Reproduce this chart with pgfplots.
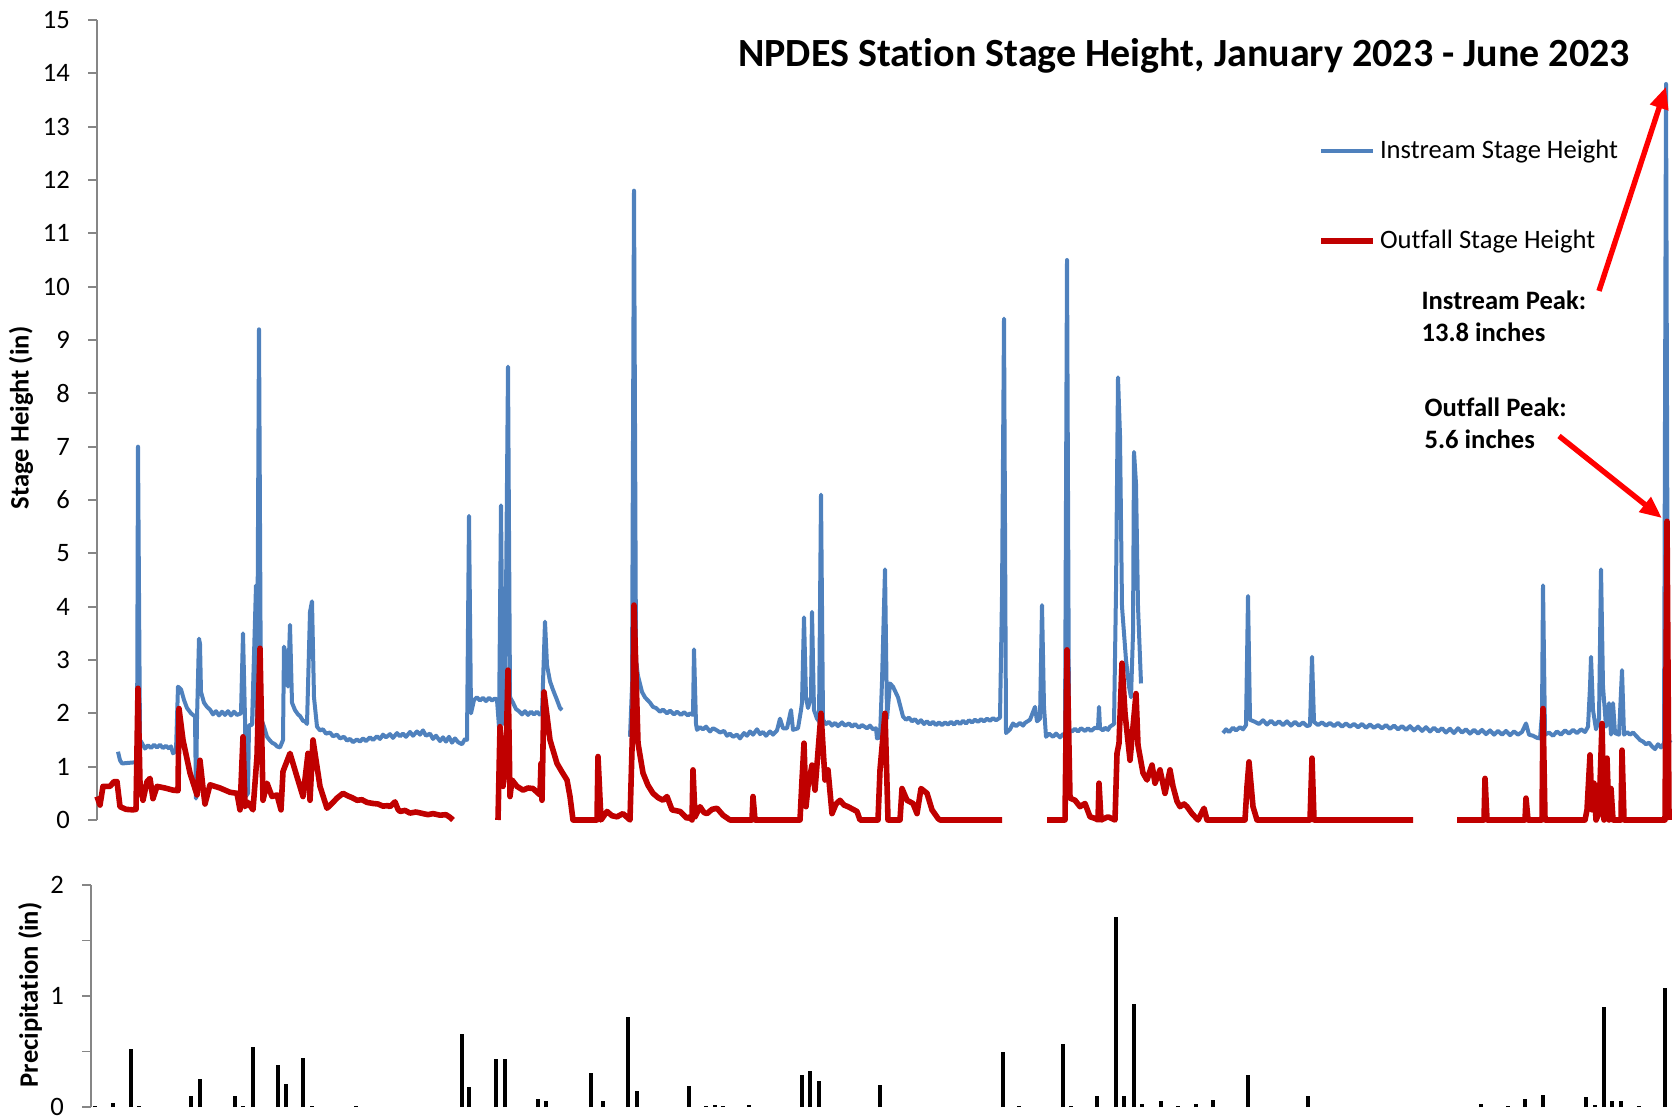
\documentclass[border=0pt]{standalone}
\usepackage{pgfplots}
\pgfplotsset{compat=1.18}
\usepackage{pgfplotstable}
\usepackage{fontspec}
\setmainfont{Carlito}[Ligatures={TeX,NoCommon}]
\usetikzlibrary{arrows.meta}
\definecolor{instream}{HTML}{4F81BD}
\definecolor{outfall}{HTML}{C00000}
\definecolor{axgray}{HTML}{868686}
\definecolor{arrowred}{HTML}{FF0000}

% x = position along Jan-Jun 2023 time axis (chart units), y = stage height (in)
\pgfplotstableread{
x y
118 1.28
120 1.12
122 1.06
128 1.07
134 1.08
137 1.10
138 7.0
140 1.5
142 1.44
145 1.34
148 1.40
151 1.35
154 1.41
157 1.36
160 1.41
163 1.35
166 1.39
169 1.34
171 1.38
173 1.25
176 1.30
178 2.5
181 2.45
184 2.25
187 2.1
191 2.0
195 1.94
196 0.4
197 1.9
199 3.4
200 3.3
201 2.4
204 2.2
207 2.12
210 2.07
213 1.98
216 2.04
219 1.96
222 2.03
225 1.97
228 2.04
231 1.96
234 2.03
237 1.97
241 2.0
243 3.5
245 1.9
246 0.45
248 0.5
249 1.78
252 1.78
256 4.4
257 1.8
259 9.2
261 1.9
264 1.75
267 1.56
270 1.49
272 1.45
275 1.42
277 1.38
280 1.36
283 1.5
284 3.25
286 3.1
288 2.5
290 3.66
292 2.2
295 2.06
298 1.98
300 1.95
303 1.86
305 1.85
307 1.8
310 3.9
312 4.1
314 2.3
317 1.75
320 1.68
323 1.70
326 1.62
330 1.64
333 1.57
337 1.60
340 1.53
344 1.56
347 1.49
350 1.52
353 1.46
357 1.51
360 1.47
363 1.53
366 1.48
370 1.55
373 1.50
377 1.57
380 1.52
383 1.60
386 1.55
390 1.61
393 1.54
397 1.63
400 1.57
403 1.62
406 1.56
410 1.65
413 1.58
417 1.66
420 1.60
423 1.68
426 1.58
430 1.62
433 1.52
436 1.58
440 1.48
443 1.55
446 1.47
449 1.56
452 1.45
455 1.53
458 1.46
462 1.42
465 1.52
467 1.5
469 5.7
471 2.0
474 2.25
477 2.30
480 2.24
483 2.29
486 2.23
489 2.29
492 2.24
495 2.28
497 2.25
499 1.75
501 5.9
503 1.8
505 2.0
508 8.5
510 2.3
513 2.2
516 2.08
519 2.04
522 1.98
525 2.04
528 1.97
531 2.03
534 1.98
537 2.03
540 1.97
542 2.0
545 3.72
547 2.9
550 2.6
553 2.44
557 2.25
560 2.1
562 2.06
563 nan
630 1.56
632 2.5
634 11.8
636 3.0
638 2.7
642 2.4
645 2.3
650 2.2
653 2.12
656 2.1
660 2.03
663 2.07
667 2.0
670 2.05
674 1.98
677 2.03
681 1.97
684 2.02
688 1.96
690 2.0
693 1.97
694 3.2
696 1.8
697 1.69
700 1.74
703 1.70
706 1.75
710 1.66
713 1.72
717 1.68
720 1.64
724 1.67
727 1.58
730 1.62
733 1.56
737 1.60
740 1.53
744 1.63
747 1.58
750 1.66
753 1.60
757 1.70
760 1.61
763 1.65
766 1.58
770 1.66
773 1.60
777 1.68
780 1.9
783 1.72
787 1.72
791 2.06
793 1.69
798 1.72
801 2.06
802 2.2
804 3.8
806 2.3
808 2.1
811 2.3
812 3.9
814 2.06
817 1.9
819 1.85
821 6.1
823 1.88
826 1.80
829 1.84
832 1.77
835 1.82
838 1.76
842 1.83
845 1.77
849 1.81
852 1.75
855 1.80
859 1.73
862 1.78
867 1.72
870 1.77
873 1.70
876 1.72
877 1.53
880 1.55
882 2.6
885 4.7
887 1.9
890 2.56
893 2.5
898 2.3
903 1.94
906 1.88
909 1.92
912 1.85
915 1.89
918 1.82
921 1.87
924 1.80
927 1.85
930 1.79
933 1.84
936 1.78
939 1.83
942 1.78
945 1.83
948 1.79
951 1.84
954 1.79
957 1.85
960 1.80
963 1.86
966 1.81
969 1.87
972 1.83
975 1.88
978 1.84
981 1.89
984 1.85
987 1.90
990 1.86
993 1.91
996 1.87
1000 1.92
1002 4.2
1004 9.4
1006 1.63
1010 1.7
1013 1.81
1016 1.76
1020 1.82
1023 1.77
1025 1.82
1030 1.88
1035 2.12
1037 1.85
1040 1.9
1042 4.03
1044 2.12
1046 1.56
1049 1.62
1053 1.56
1056 1.62
1060 1.55
1063 1.61
1065 1.6
1067 10.5
1069 1.7
1072 1.66
1075 1.71
1078 1.66
1081 1.72
1085 1.67
1088 1.72
1091 1.67
1095 1.73
1098 1.72
1099 2.12
1100 1.72
1103 1.68
1105 1.73
1108 1.69
1110 1.75
1114 1.8
1116 4.3
1118 8.3
1120 7.2
1122 4.0
1126 3.0
1129 2.5
1131 2.3
1133 3.5
1134 6.9
1136 6.3
1138 4.0
1141 2.56
1142 nan
1223 1.63
1226 1.70
1229 1.65
1233 1.73
1236 1.68
1240 1.74
1243 1.70
1246 1.78
1248 4.2
1250 1.88
1255 1.84
1259 1.80
1263 1.87
1267 1.79
1271 1.86
1275 1.79
1279 1.85
1283 1.78
1287 1.85
1291 1.77
1295 1.84
1299 1.77
1303 1.83
1307 1.76
1310 1.78
1312 3.06
1314 1.84
1318 1.78
1322 1.83
1326 1.77
1330 1.82
1334 1.76
1338 1.82
1342 1.75
1346 1.81
1350 1.75
1354 1.80
1358 1.74
1362 1.80
1366 1.73
1370 1.79
1374 1.73
1378 1.78
1382 1.72
1386 1.78
1390 1.71
1394 1.77
1398 1.70
1402 1.76
1406 1.69
1410 1.76
1414 1.68
1418 1.75
1422 1.67
1426 1.74
1430 1.66
1434 1.73
1438 1.66
1442 1.72
1446 1.64
1450 1.71
1454 1.63
1458 1.72
1462 1.64
1466 1.70
1470 1.62
1474 1.69
1478 1.62
1482 1.69
1486 1.61
1490 1.68
1494 1.60
1498 1.67
1502 1.60
1506 1.67
1510 1.59
1514 1.66
1518 1.60
1522 1.65
1526 1.81
1529 1.60
1533 1.58
1537 1.54
1540 1.53
1542 2.0
1543 4.4
1545 1.6
1549 1.64
1553 1.58
1557 1.66
1561 1.60
1565 1.68
1569 1.62
1573 1.69
1577 1.63
1581 1.70
1585 1.65
1588 1.75
1590 2.5
1591 3.06
1593 2.06
1596 1.7
1599 1.9
1601 4.7
1603 2.5
1606 1.75
1609 2.19
1611 1.6
1613 2.19
1615 1.63
1619 1.6
1622 2.81
1624 1.6
1627 1.65
1630 1.60
1633 1.64
1636 1.58
1640 1.50
1643 1.47
1646 1.42
1649 1.45
1652 1.38
1655 1.33
1658 1.42
1661 1.36
1664 1.44
1666 13.8
1668 1.45
1671 1.5
}\instreamdata

\pgfplotstableread{
x y
97 0.44
100 0.28
103 0.63
110 0.63
114 0.72
117 0.72
120 0.25
126 0.2
133 0.19
136 0.2
138 2.47
140 0.69
143 0.37
147 0.72
150 0.78
153 0.4
157 0.63
165 0.6
173 0.56
178 0.55
179 2.09
183 1.5
190 0.88
197 0.47
200 1.12
203 0.6
205 0.3
210 0.66
215 0.63
220 0.6
225 0.56
230 0.52
237 0.5
240 0.19
243 1.56
245 0.25
248 0.33
253 0.19
257 1.19
260 3.22
263 0.37
267 0.69
272 0.44
277 0.47
281 0.19
283 0.91
290 1.25
297 0.81
303 0.44
308 1.25
310 0.37
313 1.5
320 0.63
327 0.22
333 0.33
337 0.41
343 0.5
348 0.45
352 0.42
357 0.37
362 0.38
367 0.33
373 0.31
378 0.30
383 0.26
388 0.27
390 0.25
395 0.34
398 0.2
400 0.16
405 0.18
410 0.13
416 0.15
423 0.12
428 0.1
433 0.12
440 0.09
446 0.1
450 0.05
453 0.0
454 nan
498 0.0
500 1.75
503 0.63
506 1.2
508 2.81
510 0.44
512 0.75
517 0.63
523 0.56
528 0.6
533 0.59
540 0.47
541 1.06
542 0.37
544 2.4
550 1.5
557 1.06
562 0.9
567 0.75
570 0.44
573 0.0
597 0.0
598 1.19
601 0.0
607 0.16
612 0.08
617 0.06
623 0.12
630 0.0
633 2.0
634 4.03
638 1.44
643 0.88
648 0.65
653 0.5
658 0.42
663 0.37
667 0.44
672 0.19
680 0.16
687 0.03
690 0.06
692 0.0
693 0.94
695 0.06
700 0.25
704 0.14
707 0.12
712 0.2
717 0.22
723 0.09
730 0.0
752 0.0
753 0.44
755 0.0
800 0.0
802 0.75
804 1.44
806 0.25
808 0.63
812 1.03
815 0.56
821 2.0
825 0.75
828 0.94
832 0.12
836 0.3
840 0.37
844 0.28
848 0.25
853 0.2
857 0.16
860 0.0
878 0.0
880 0.94
885 2.0
888 0.0
900 0.0
902 0.59
907 0.37
913 0.31
917 0.12
921 0.59
927 0.5
932 0.19
938 0.03
940 0.0
1002 0.0
1003 nan
1047 0.0
1065 0.0
1067 3.19
1070 0.41
1075 0.37
1080 0.25
1085 0.31
1090 0.06
1095 0.03
1098 0.0
1099 0.69
1101 0.0
1108 0.06
1115 0.0
1117 1.25
1119 1.44
1122 2.94
1125 2.0
1130 1.12
1136 2.37
1138 1.4
1143 0.88
1147 0.75
1152 1.03
1155 0.69
1160 0.94
1165 0.5
1170 0.94
1173 0.63
1177 0.35
1180 0.25
1184 0.3
1187 0.25
1192 0.12
1198 0.0
1204 0.22
1207 0.0
1245 0.0
1247 0.63
1249 1.09
1253 0.25
1257 0.0
1310 0.0
1312 1.16
1314 0.0
1413 0.0
1414 nan
1457 0.0
1484 0.0
1485 0.78
1487 0.0
1525 0.0
1526 0.41
1528 0.0
1542 0.0
1543 2.09
1545 0.0
1585 0.0
1587 0.19
1590 1.22
1592 0.19
1594 0.69
1596 0.0
1599 0.12
1602 1.81
1604 0.0
1607 1.16
1609 0.0
1611 0.59
1613 0.0
1621 0.0
1622 1.31
1624 0.0
1665 0.0
1667 5.6
1669 0.0
}\outfalldata

% daily precipitation (in)
\pgfplotstableread{
x y
95 0.01
113 0.04
131 0.525
139 0.01
191 0.1
200 0.25
235 0.1
243 0.01
253 0.54
278 0.38
286 0.21
303 0.445
312 0.01
356 0.01
462 0.66
469 0.18
496 0.43
505 0.43
538 0.07
546 0.05
591 0.31
603 0.05
628 0.81
637 0.14
689 0.185
706 0.01
715 0.02
723 0.01
749 0.02
802 0.29
810 0.32
819 0.23
880 0.195
1003 0.5
1019 0.01
1063 0.565
1071 0.01
1097 0.1
1116 1.71
1124 0.1
1134 0.93
1142 0.03
1161 0.055
1178 0.01
1196 0.03
1213 0.06
1248 0.29
1308 0.1
1481 0.025
1508 0.01
1525 0.07
1543 0.11
1586 0.09
1595 0.015
1604 0.9
1612 0.05
1621 0.055
1639 0.01
1665 1.07
}\precipdata

\newcommand{\basefont}{\fontsize{13.3}{16}\selectfont}

\begin{document}
\begin{tikzpicture}[x=1pt,y=1pt]
\useasboundingbox (0,0) rectangle (840,559.5);
\begin{axis}[
  at={(48.5pt,149.5pt)}, anchor=south west,
  scale only axis, width=787.5pt, height=400pt,
  xmin=97, xmax=1672, ymin=0, ymax=15,
  axis x line=none, axis y line*=left,
  y axis line style={axgray, line width=0.9pt},
  ytick={0,1,...,15},
  ytick style={axgray, line width=0.9pt},
  tick align=outside, major tick length=4.5pt,
  tick label style={font=\basefont, black},
  yticklabel style={xshift=-5.5pt},
  /pgf/number format/assume math mode=true,
  clip=false, unbounded coords=jump,
  legend style={draw=none, fill=none, at={(axis cs:1318,11.70)}, anchor=west,
    font=\basefont, row sep=30pt, inner sep=0pt},
  legend cell align=left,
  legend image code/.code={\draw[#1] (0pt,0pt) -- (26pt,0pt);},
]
\addplot[instream, line width=2.0pt, line join=round] table {\instreamdata};
\addlegendentry{Instream Stage Height}
\addplot[outfall, line width=2.8pt, line join=round] table {\outfalldata};
\addlegendentry{Outfall Stage Height}

\node[font=\fontsize{20}{24}\selectfont\bfseries] at (axis cs:1184,14.33) {NPDES Station Stage Height, January 2023 - June 2023};
\node[font=\basefont\bfseries, rotate=90] at (axis cs:21,7.54) {Stage Height (in)};
\node[font=\basefont\bfseries, anchor=west, align=left] at (axis cs:1414.5,9.45) {Instream Peak:\\13.8 inches};
\node[font=\basefont\bfseries, anchor=west, align=left] at (axis cs:1417.5,7.44) {Outfall Peak:\\5.6 inches};
\draw[arrowred, line width=2.7pt, -{Triangle[length=11pt,width=9pt]}] (axis cs:1599,9.92) -- (axis cs:1666,13.75);
\draw[arrowred, line width=2.7pt, -{Triangle[length=11pt,width=9pt]}] (axis cs:1559,7.2) -- (axis cs:1662,5.66);
\end{axis}

\begin{axis}[
  at={(45.5pt,6pt)}, anchor=south west,
  scale only axis, width=790.5pt, height=111pt,
  xmin=91, xmax=1672, ymin=0, ymax=2,
  axis x line=none, axis y line*=left,
  y axis line style={axgray, line width=0.9pt},
  ytick={0,1,2}, minor ytick={0.5,1.5},
  ytick style={axgray, line width=0.9pt},
  minor tick style={axgray, line width=0.9pt},
  tick align=outside, major tick length=4.5pt, minor tick length=4.5pt,
  tick label style={font=\basefont, black},
  yticklabel style={xshift=-5.5pt},
  /pgf/number format/assume math mode=true,
  clip=false,
]
\addplot[ycomb, black, line width=1.8pt, mark=none] table {\precipdata};
\node[font=\basefont\bfseries, rotate=90] at (axis cs:30,1.01) {Precipitation (in)};
\end{axis}
\end{tikzpicture}
\end{document}
